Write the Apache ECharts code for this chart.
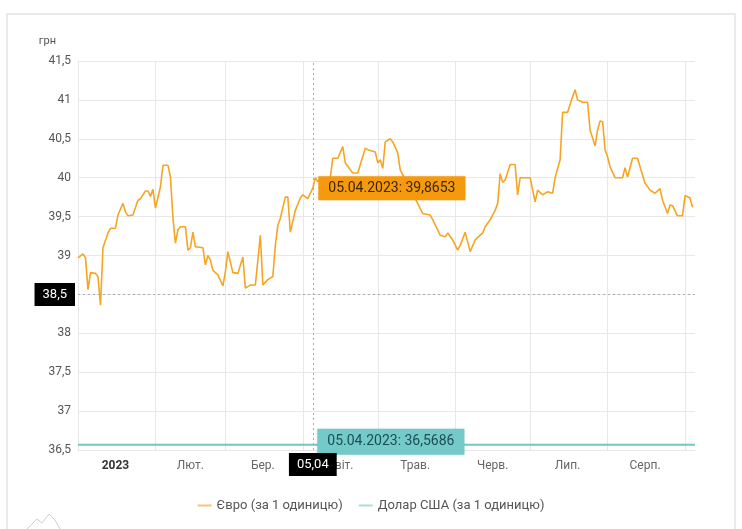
<!DOCTYPE html>
<html>
<head>
<meta charset="utf-8">
<title>Курс євро та долара США</title>
<script src="https://cdn.jsdelivr.net/npm/echarts@6/dist/echarts.min.js"></script>
<style>
    html, body { margin: 0; padding: 0; background: #fff; }
    #main { width: 742px; height: 529px; }
</style>
</head>
<body>
<div id="main"></div>
<script>
// курс євро, грн за 1 одиницю
var euroDates = [
    '2023-01-01','2023-01-03','2023-01-04','2023-01-05','2023-01-06','2023-01-08','2023-01-09','2023-01-10',
    '2023-01-11','2023-01-13','2023-01-14','2023-01-16','2023-01-17','2023-01-19','2023-01-20','2023-01-21',
    '2023-01-23','2023-01-25','2023-01-26','2023-01-28','2023-01-29','2023-01-30','2023-01-31',
    '2023-02-01','2023-02-03','2023-02-04','2023-02-06','2023-02-07','2023-02-08','2023-02-09','2023-02-10',
    '2023-02-11','2023-02-13','2023-02-14','2023-02-15','2023-02-16','2023-02-17','2023-02-18','2023-02-20',
    '2023-02-21','2023-02-22','2023-02-23','2023-02-24','2023-02-26','2023-02-28',
    '2023-03-01','2023-03-02','2023-03-04','2023-03-06','2023-03-08','2023-03-09','2023-03-11','2023-03-13',
    '2023-03-15','2023-03-16','2023-03-18','2023-03-20','2023-03-21','2023-03-22','2023-03-23','2023-03-25',
    '2023-03-26','2023-03-27','2023-03-29','2023-03-31',
    '2023-04-01','2023-04-03','2023-04-04','2023-04-05','2023-04-06','2023-04-07','2023-04-10','2023-04-12',
    '2023-04-13','2023-04-15','2023-04-17','2023-04-18','2023-04-21','2023-04-23','2023-04-26','2023-04-27',
    '2023-04-30',
    '2023-05-01','2023-05-02','2023-05-03','2023-05-04','2023-05-06','2023-05-07','2023-05-09','2023-05-10',
    '2023-05-14','2023-05-17','2023-05-19','2023-05-22','2023-05-23','2023-05-26','2023-05-28','2023-05-29',
    '2023-05-31',
    '2023-06-02','2023-06-03','2023-06-05','2023-06-07','2023-06-09','2023-06-12','2023-06-13','2023-06-15',
    '2023-06-17','2023-06-18','2023-06-19','2023-06-20','2023-06-21','2023-06-23','2023-06-25','2023-06-26',
    '2023-06-27','2023-06-30',
    '2023-07-01','2023-07-03','2023-07-04','2023-07-06','2023-07-08','2023-07-10','2023-07-11','2023-07-13',
    '2023-07-14','2023-07-16','2023-07-18','2023-07-19','2023-07-20','2023-07-22','2023-07-24','2023-07-25',
    '2023-07-27','2023-07-28','2023-07-29','2023-07-30','2023-07-31',
    '2023-08-01','2023-08-02','2023-08-04','2023-08-07','2023-08-08','2023-08-09','2023-08-11','2023-08-13',
    '2023-08-14','2023-08-16','2023-08-18','2023-08-20','2023-08-22','2023-08-23','2023-08-25','2023-08-26',
    '2023-08-27','2023-08-29','2023-08-31',
    '2023-09-01','2023-09-03','2023-09-04'
];
var euroValues = [
    38.97, 39.02, 38.97, 38.56, 38.78, 38.77, 38.73, 38.36,
    39.10, 39.29, 39.35, 39.35, 39.52, 39.67, 39.56, 39.51,
    39.52, 39.71, 39.73, 39.83, 39.83, 39.76, 39.85,
    39.61, 39.88, 40.16, 40.16, 40.01, 39.49, 39.16, 39.33,
    39.37, 39.37, 39.07, 39.10, 39.30, 39.11, 39.11, 39.10,
    38.88, 39.00, 38.94, 38.81, 38.75, 38.61,
    38.79, 39.05, 38.78, 38.77, 38.98, 38.58, 38.62, 38.62,
    39.26, 38.62, 38.69, 38.73, 39.13, 39.39, 39.48, 39.75,
    39.75, 39.30, 39.58, 39.74,
    39.78, 39.73, 39.80, 39.8653, 40.00, 39.95, 39.98, 40.00,
    40.25, 40.25, 40.40, 40.19, 40.06, 40.06, 40.38, 40.36,
    40.33,
    40.19, 40.23, 40.12, 40.46, 40.50, 40.46, 40.32, 40.10,
    39.85, 39.67, 39.54, 39.52, 39.46, 39.26, 39.24, 39.29,
    39.20,
    39.07, 39.13, 39.30, 39.05, 39.20, 39.29, 39.37, 39.46,
    39.58, 39.67, 40.05, 39.94, 39.97, 40.17, 40.17, 39.78,
    40.00, 40.00,
    40.00, 39.69, 39.84, 39.78, 39.82, 39.80, 40.00, 40.23,
    40.84, 40.84, 41.04, 41.13, 41.00, 40.97, 40.97, 40.61,
    40.41, 40.61, 40.73, 40.72, 40.36,
    40.27, 40.14, 40.00, 40.00, 40.13, 40.01, 40.25, 40.25,
    40.14, 39.93, 39.84, 39.80, 39.86, 39.71, 39.54, 39.65,
    39.64, 39.51, 39.51,
    39.77, 39.74, 39.62
];

// курс долара США (фіксований)
var usdDates = ['2023-01-01', '2023-09-05'];
var usdValues = [36.5686, 36.5686];

var seriesNames = ['Євро (за 1 одиницю)', 'Долар США (за 1 одиницю)'];

var monthStarts = ['2023-01-01','2023-02-01','2023-03-01','2023-04-01','2023-05-01',
                   '2023-06-01','2023-07-01','2023-08-01','2023-09-01'];
var labelDates = ['2023-01-16','2023-02-15','2023-03-16','2023-04-16',
                  '2023-05-16','2023-06-16','2023-07-16','2023-08-16'];
var monthNames = ['2023', 'Лют.', 'Бер.', 'Квіт.', 'Трав.', 'Черв.', 'Лип.', 'Серп.'];

var xStart = '2023-01-01', xEnd = '2023-09-05';
var yMin = 36.5, yMax = 41.5, yStep = 0.5;

// позначка наведення
var pointerDate = '2023-04-05';
var pointerDateText = '05.04.2023';
var pointerEuro = 39.8653;
var pointerUsd = 36.5686;
var pointerY = 38.5;

function comma(v) { return String(v).replace('.', ','); }
function t(s) { return echarts.time.parse(s).getTime(); }

var chart = echarts.init(document.getElementById('main'));

var option = {
    backgroundColor: '#fff',
    animation: false,
    textStyle: { fontFamily: 'Roboto' },
    tooltip: { show: true, triggerOn: 'none', showContent: false },
    graphic: [
        {
            type: 'rect',
            shape: { x: 7, y: 14, width: 728, height: 540 },
            style: { fill: 'none', stroke: '#e2e2e2', lineWidth: 1.5 },
            silent: true
        },
        {
            // логотип внизу зліва
            type: 'polyline',
            shape: { points: [[27, 529], [37, 519], [42, 523], [49, 514], [55, 520], [60, 529]] },
            style: { fill: 'none', stroke: '#cfcfcf', lineWidth: 1 },
            silent: true
        }
    ],
    grid: { left: 78, right: 47, top: 61, bottom: 79, outerBoundsMode: 'none' },
    legend: {
        left: 'center',
        top: 494,
        itemWidth: 14,
        itemHeight: 2,
        itemGap: 16,
        icon: 'rect',
        textStyle: { color: '#555', fontSize: 13 },
        data: seriesNames
    },
    xAxis: {
        type: 'value',
        min: t(xStart),
        max: t(xEnd),
        axisLine: { show: true, lineStyle: { color: '#e6e6e6' } },
        axisTick: { show: false, customValues: monthStarts.map(t) },
        splitLine: { show: true, lineStyle: { color: '#e8e8e8' } },
        axisLabel: {
            customValues: labelDates.map(t),
            margin: 10,
            color: '#666',
            fontSize: 12,
            formatter: function (v) {
                var m = new Date(v).getMonth();
                return m === 0 ? '{b|' + monthNames[m] + '}' : monthNames[m];
            },
            rich: { b: { fontWeight: 'bold', color: '#333', fontSize: 12 } }
        },
        axisPointer: {
            show: true,
            status: 'show',
            value: t(pointerDate),
            snap: false,
            triggerTooltip: false,
            lineStyle: { color: '#aaa', type: [2, 3], width: 1 },
            label: {
                show: true,
                backgroundColor: '#000',
                color: '#fff',
                fontSize: 13,
                padding: [5, 8],
                borderRadius: 0,
                formatter: function (p) {
                    var d = new Date(p.value);
                    var dd = ('0' + d.getDate()).slice(-2), mm = ('0' + (d.getMonth() + 1)).slice(-2);
                    return dd + ',' + mm;
                }
            }
        }
    },
    yAxis: {
        type: 'value',
        min: yMin,
        max: yMax,
        interval: yStep,
        name: 'грн',
        nameLocation: 'end',
        nameGap: 14,
        nameTextStyle: { color: '#555', fontSize: 11, align: 'right', padding: [0, 22, 0, 0] },
        axisLine: { show: false },
        axisTick: { show: false },
        splitLine: { lineStyle: { color: '#e8e8e8' } },
        axisLabel: { color: '#555', fontSize: 12, margin: 7, formatter: comma },
        axisPointer: {
            show: true,
            status: 'show',
            value: pointerY,
            snap: false,
            triggerTooltip: false,
            lineStyle: { color: '#aaa', type: [2, 3], width: 1 },
            label: {
                show: true,
                backgroundColor: '#000',
                color: '#fff',
                fontSize: 13,
                padding: [5, 8],
                borderRadius: 0,
                formatter: function (p) { return comma(Math.round(p.value * 10) / 10); }
            }
        }
    },
    series: [
        {
            name: seriesNames[0],
            type: 'line',
            showSymbol: false,
            symbol: 'none',
            color: '#f6a523',
            lineStyle: { width: 1.6, color: '#f6a523' },
            itemStyle: { color: '#f8c27a' },
            data: euroDates.map(function (d, i) { return [t(d), euroValues[i]]; }),
            markPoint: {
                silent: true,
                symbol: 'rect',
                symbolSize: 1,
                itemStyle: { color: 'rgba(0,0,0,0)' },
                label: {
                    show: true,
                    position: 'right',
                    distance: 5,
                    backgroundColor: '#f59a0f',
                    color: '#3d2600',
                    fontSize: 14,
                    padding: [5, 10],
                    shadowColor: 'rgba(0,0,0,0.15)',
                    shadowBlur: 3,
                    formatter: function (p) { return pointerDateText + ': ' + comma(p.value); }
                },
                data: [{ coord: [t(pointerDate), pointerEuro], value: pointerEuro }]
            }
        },
        {
            name: seriesNames[1],
            type: 'line',
            showSymbol: false,
            symbol: 'none',
            color: '#74c6c6',
            lineStyle: { width: 2, color: '#74c6c6' },
            itemStyle: { color: '#a9dcdc' },
            data: usdDates.map(function (d, i) { return [t(d), usdValues[i]]; }),
            markPoint: {
                silent: true,
                symbol: 'rect',
                symbolSize: 1,
                itemStyle: { color: 'rgba(0,0,0,0)' },
                label: {
                    show: true,
                    position: 'right',
                    distance: 4,
                    offset: [0, -3],
                    backgroundColor: '#74c9c9',
                    color: '#1c4e54',
                    fontSize: 14,
                    padding: [6, 10],
                    shadowColor: 'rgba(0,0,0,0.15)',
                    shadowBlur: 3,
                    formatter: function (p) { return pointerDateText + ': ' + comma(p.value); }
                },
                data: [{ coord: [t(pointerDate), pointerUsd], value: pointerUsd }]
            }
        }
    ]
};

chart.setOption(option);
</script>
</body>
</html>
